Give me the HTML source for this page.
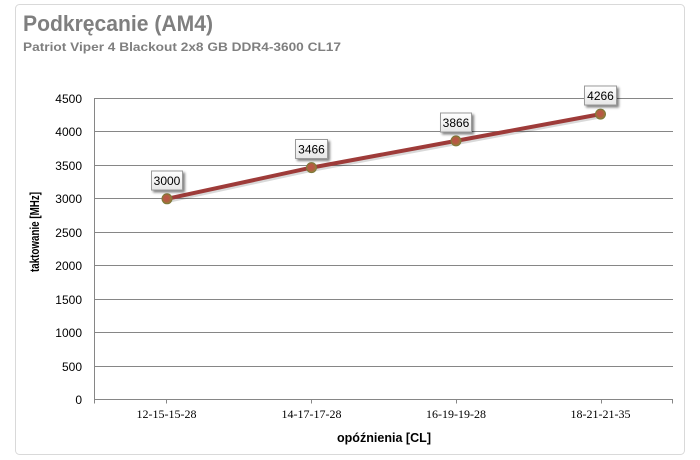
<!DOCTYPE html>
<html>
<head>
<meta charset="utf-8">
<style>
  html,body{margin:0;padding:0;background:#fff;}
  svg{display:block;}
</style>
</head>
<body>
<svg width="700" height="460" viewBox="0 0 700 460" xmlns="http://www.w3.org/2000/svg">
  <defs>
    <linearGradient id="lbl" x1="0" y1="0" x2="0" y2="1">
      <stop offset="0" stop-color="#ffffff"/>
      <stop offset="1" stop-color="#e6e6e6"/>
    </linearGradient>
    <radialGradient id="mk" cx="0.45" cy="0.45" r="0.6">
      <stop offset="0" stop-color="#c0504d"/>
      <stop offset="0.55" stop-color="#b0603f"/>
      <stop offset="1" stop-color="#8a8a3a"/>
    </radialGradient>
    <filter id="sh" x="-30%" y="-30%" width="160%" height="160%">
      <feGaussianBlur in="SourceAlpha" stdDeviation="1.2"/>
      <feOffset dx="2" dy="2" result="o"/>
      <feComponentTransfer><feFuncA type="linear" slope="0.5"/></feComponentTransfer>
      <feMerge><feMergeNode/><feMergeNode in="SourceGraphic"/></feMerge>
    </filter>
  </defs>

  <!-- outer border -->
  <rect x="15.5" y="4.5" width="669" height="450" rx="4" ry="4" fill="#fff" stroke="#d9d9d9" stroke-width="1"/>

  <!-- title -->
  <text x="23" y="31" font-family="Liberation Sans, sans-serif" font-weight="bold" font-size="22" fill="#7f7f7f" textLength="190" lengthAdjust="spacingAndGlyphs">Podkręcanie (AM4)</text>
  <text x="23" y="51" font-family="Liberation Sans, sans-serif" font-weight="bold" font-size="12" fill="#7f7f7f" textLength="318" lengthAdjust="spacingAndGlyphs">Patriot Viper 4 Blackout 2x8 GB DDR4-3600 CL17</text>

  <!-- gridlines -->
  <g stroke="#868686" stroke-width="1" fill="none">
    <line x1="95" y1="98.5" x2="673" y2="98.5"/>
    <line x1="95" y1="131.5" x2="673" y2="131.5"/>
    <line x1="95" y1="165.5" x2="673" y2="165.5"/>
    <line x1="95" y1="198.5" x2="673" y2="198.5"/>
    <line x1="95" y1="232.5" x2="673" y2="232.5"/>
    <line x1="95" y1="265.5" x2="673" y2="265.5"/>
    <line x1="95" y1="299.5" x2="673" y2="299.5"/>
    <line x1="95" y1="332.5" x2="673" y2="332.5"/>
    <line x1="95" y1="366.5" x2="673" y2="366.5"/>
    <line x1="95" y1="399.5" x2="673" y2="399.5"/>
    <line x1="94.5" y1="98" x2="94.5" y2="400"/>
    <!-- x ticks -->
    <line x1="94.5" y1="399.5" x2="94.5" y2="403.5"/>
    <line x1="166.5" y1="399.5" x2="166.5" y2="403.5"/>
    <line x1="311.5" y1="399.5" x2="311.5" y2="403.5"/>
    <line x1="456.5" y1="399.5" x2="456.5" y2="403.5"/>
    <line x1="601.5" y1="399.5" x2="601.5" y2="403.5"/>
    <line x1="672.5" y1="399.5" x2="672.5" y2="403.5"/>
  </g>

  <!-- y labels -->
  <g font-family="Liberation Sans, sans-serif" font-size="12" fill="#000" text-anchor="end">
    <text x="82" y="103">4500</text>
    <text x="82" y="136">4000</text>
    <text x="82" y="170">3500</text>
    <text x="82" y="203">3000</text>
    <text x="82" y="237">2500</text>
    <text x="82" y="270">2000</text>
    <text x="82" y="304">1500</text>
    <text x="82" y="337">1000</text>
    <text x="82" y="371">500</text>
    <text x="82" y="404">0</text>
  </g>

  <!-- x labels -->
  <g font-family="Liberation Serif, serif" font-size="12" fill="#000" text-anchor="middle">
    <text x="166.5" y="418">12-15-15-28</text>
    <text x="311.5" y="418">14-17-17-28</text>
    <text x="456" y="418">16-19-19-28</text>
    <text x="600.5" y="418">18-21-21-35</text>
  </g>

  <!-- axis titles -->
  <text x="384" y="442" font-family="Liberation Sans, sans-serif" font-weight="bold" font-size="13" fill="#000" text-anchor="middle" textLength="94" lengthAdjust="spacingAndGlyphs">opóźnienia [CL]</text>
  <text transform="translate(39,232) rotate(-90)" font-family="Liberation Sans, sans-serif" font-weight="bold" font-size="13" fill="#000" text-anchor="middle" textLength="80" lengthAdjust="spacingAndGlyphs">taktowanie [MHz]</text>

  <!-- series line -->
  <polyline points="167,198.8 311.5,167.6 456,140.9 600.5,114.1" fill="none" stroke="#000" stroke-opacity="0.15" stroke-width="4" transform="translate(1.5,2)" stroke-linejoin="round"/>
  <polyline points="167,198.8 311.5,167.6 456,140.9 600.5,114.1" fill="none" stroke="#9e3b39" stroke-width="4" stroke-linejoin="round"/>

  <!-- markers -->
  <g stroke="#7d7a3a" stroke-width="1" fill="url(#mk)">
    <circle cx="167" cy="198.8" r="5"/>
    <circle cx="311.5" cy="167.6" r="5"/>
    <circle cx="456" cy="140.9" r="5"/>
    <circle cx="600.5" cy="114.1" r="5"/>
  </g>

  <!-- data labels -->
  <g filter="url(#sh)">
    <rect x="151.5" y="171" width="31" height="19" fill="url(#lbl)" stroke="#9a9a9a"/>
    <rect x="295.5" y="139.5" width="32" height="19" fill="url(#lbl)" stroke="#9a9a9a"/>
    <rect x="440.5" y="113" width="31" height="19" fill="url(#lbl)" stroke="#9a9a9a"/>
    <rect x="584.5" y="86" width="32" height="19" fill="url(#lbl)" stroke="#9a9a9a"/>
  </g>
  <g font-family="Liberation Sans, sans-serif" font-size="12" fill="#000" text-anchor="middle">
    <text x="167" y="185">3000</text>
    <text x="311.5" y="153.5">3466</text>
    <text x="456" y="127">3866</text>
    <text x="600.5" y="100">4266</text>
  </g>
</svg>
</body>
</html>
